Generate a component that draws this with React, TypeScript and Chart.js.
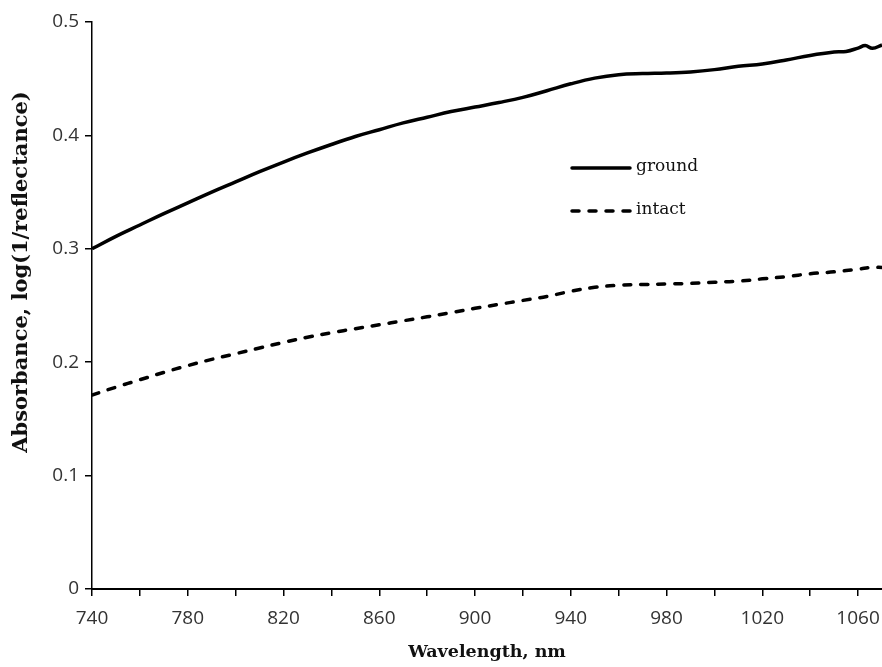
import React, { useEffect, useRef } from "react";
import { Chart, registerables } from "chart.js";

Chart.register(...registerables);

const groundWavelengths = [740, 750, 760, 770, 780, 790, 800, 810, 820, 830, 840, 850, 860, 870, 880, 890, 900, 910, 920, 930, 940, 950, 960, 970, 980, 990, 1000, 1010, 1020, 1030, 1040, 1050, 1055, 1060, 1063, 1066, 1070];
const groundValues = [0.300, 0.311, 0.321, 0.331, 0.3405, 0.350, 0.359, 0.368, 0.3765, 0.3845, 0.392, 0.399, 0.405, 0.411, 0.416, 0.421, 0.425, 0.429, 0.4335, 0.4394, 0.4455, 0.4505, 0.4535, 0.4545, 0.455, 0.456, 0.458, 0.461, 0.463, 0.4665, 0.4705, 0.4735, 0.474, 0.477, 0.4792, 0.4768, 0.4797];

const intactWavelengths = [740, 750, 760, 770, 780, 790, 800, 810, 820, 830, 840, 850, 860, 870, 880, 890, 900, 910, 920, 930, 940, 950, 960, 970, 980, 990, 1000, 1010, 1020, 1030, 1040, 1050, 1060, 1066, 1070];
const intactValues = [0.171, 0.178, 0.1845, 0.191, 0.197, 0.2025, 0.2075, 0.2125, 0.2175, 0.222, 0.226, 0.2295, 0.233, 0.2365, 0.240, 0.2437, 0.2475, 0.251, 0.2545, 0.258, 0.2625, 0.266, 0.2678, 0.2685, 0.269, 0.2695, 0.2705, 0.2715, 0.2735, 0.2755, 0.278, 0.2797, 0.282, 0.2837, 0.2835];

const seriesNames = ["ground", "intact"];
const xTitle = "Wavelength, nm";
const yTitle = "Absorbance, log(1/reflectance)";
const xMin = 740;
const xMax = 1070;
const xLabelStep = 40;
const yTicks = [0, 0.1, 0.2, 0.3, 0.4, 0.5];

const overlayPlugin = {
  id: "overlay",
  afterDraw(chart: any) {
    const ctx = chart.ctx;
    const area = chart.chartArea;
    ctx.save();
    // y-axis title
    ctx.save();
    ctx.translate(22, area.top + 250);
    ctx.rotate(-Math.PI / 2);
    ctx.fillStyle = "#111";
    ctx.font = "bold 21px 'DejaVu Serif'";
    ctx.textAlign = "center";
    ctx.textBaseline = "middle";
    ctx.fillText(yTitle, 0, 0);
    ctx.restore();
    // legend
    const x0 = area.left + 480;
    const x1 = area.left + 538;
    const ys = [area.top + 146, area.top + 189];
    ctx.strokeStyle = "#000";
    ctx.lineWidth = 3.5;
    ctx.lineCap = "round";
    seriesNames.forEach((name, i) => {
      ctx.beginPath();
      ctx.setLineDash(i === 0 ? [] : [7, 10]);
      ctx.moveTo(x0, ys[i]);
      ctx.lineTo(x1, ys[i]);
      ctx.stroke();
      ctx.setLineDash([]);
      ctx.fillStyle = "#111";
      ctx.font = "17px 'DejaVu Serif'";
      ctx.textBaseline = "middle";
      ctx.textAlign = "left";
      ctx.fillText(name, x1 + 6, ys[i] - 1);
    });
    ctx.restore();
  },
};

export default function App() {
  const ref = useRef<HTMLCanvasElement | null>(null);
  useEffect(() => {
    if (!ref.current) return;
    const chart = new Chart(ref.current, {
      type: "line",
      data: {
        datasets: [
          {
            label: seriesNames[0],
            data: groundWavelengths.map((x, i) => ({ x, y: groundValues[i] })),
            borderColor: "#000",
            borderWidth: 3.5,
            pointRadius: 0,
            tension: 0.4,
            fill: false,
          },
          {
            label: seriesNames[1],
            data: intactWavelengths.map((x, i) => ({ x, y: intactValues[i] })),
            borderColor: "#000",
            borderWidth: 3.5,
            borderDash: [7, 10],
            borderCapStyle: "round",
            pointRadius: 0,
            tension: 0.4,
            fill: false,
          },
        ],
      },
      options: {
        animation: false,
        responsive: false,
        maintainAspectRatio: false,
        layout: { padding: { top: 22, right: 0, bottom: 0, left: 0 } },
        plugins: { legend: { display: false }, tooltip: { enabled: false } },
        scales: {
          x: {
            type: "linear",
            min: xMin,
            max: xMax,
            afterFit: (s: any) => { s.height = 78; s.paddingRight = 0; s.paddingLeft = 0; },
            border: { display: true, color: "#000", width: 2 },
            grid: { display: true, drawOnChartArea: false, drawTicks: true, tickLength: 7, color: "#000", lineWidth: 1.5 },
            ticks: {
              stepSize: 20,
              includeBounds: false,
              autoSkip: false,
              maxRotation: 0,
              padding: 11,
              color: "#333",
              font: { family: "'Open Sans'", size: 19 },
              callback: (v: any) => ((Number(v) - xMin) % xLabelStep === 0 ? String(v) : ""),
            },
            title: {
              display: true,
              text: xTitle,
              color: "#111",
              font: { family: "'DejaVu Serif'", size: 17.5, weight: "bold" },
              padding: { top: 0, bottom: 4 },
            },
          },
          y: {
            type: "linear",
            min: 0,
            max: 0.5,
            afterFit: (s: any) => { s.width = 92; s.paddingTop = 0; s.paddingBottom = 0; },
            afterBuildTicks: (s: any) => { s.ticks = yTicks.map((v) => ({ value: v })); },
            border: { display: true, color: "#000", width: 1.5 },
            grid: { display: true, drawOnChartArea: false, drawTicks: true, tickLength: 7, color: "#000", lineWidth: 1.5 },
            ticks: {
              padding: 6,
              color: "#333",
              font: { family: "'Open Sans'", size: 19 },
              callback: (v: any) => String(Number(v)),
            },
          },
        },
      },
      plugins: [overlayPlugin],
    });
    return () => chart.destroy();
  }, []);
  return (
    <div style={{ position: "fixed", left: 0, top: 0, width: 882, height: 667, background: "#fff" }}>
      <canvas ref={ref} width={882} height={667} style={{ display: "block", width: 882, height: 667 }} />
    </div>
  );
}
